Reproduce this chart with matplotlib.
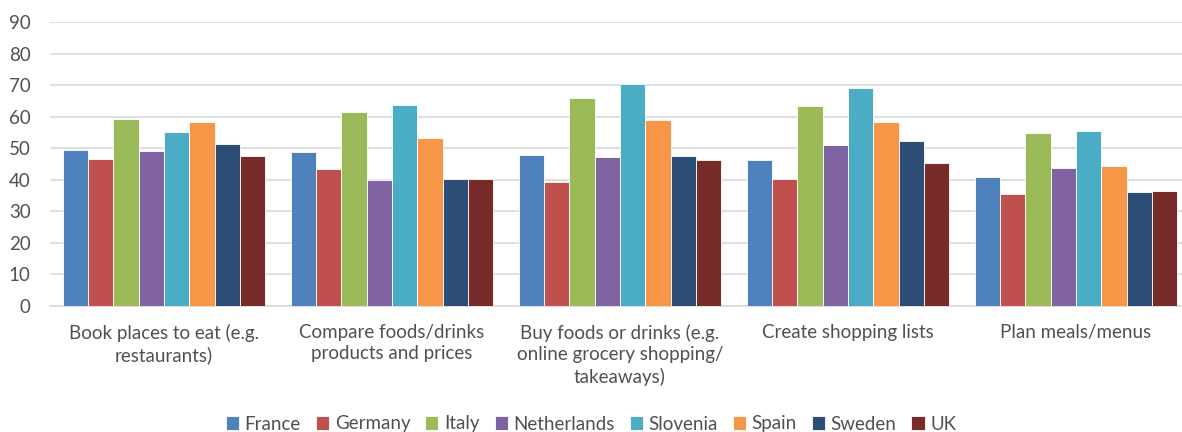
import matplotlib.pyplot as plt
import numpy as np

plt.rcParams['font.family'] = ['Lato', 'DejaVu Sans']

categories = [
    "Book places to eat (e.g.\nrestaurants)",
    "Compare foods/drinks\nproducts and prices",
    "Buy foods or drinks (e.g.\nonline grocery shopping/\ntakeaways)",
    "Create shopping lists",
    "Plan meals/menus",
]
countries = ["France", "Germany", "Italy", "Netherlands", "Slovenia", "Spain", "Sweden", "UK"]
colors = ["#4F81BD", "#C0504D", "#9BBB59", "#8064A2", "#4BACC6", "#F79646", "#2C4D75", "#772C2A"]

france = [49.3, 48.8, 47.9, 46.3, 40.8]
germany = [46.5, 43.4, 39.2, 40.2, 35.6]
italy = [59.3, 61.5, 66.0, 63.5, 54.7]
netherlands = [49.2, 39.9, 47.2, 51.0, 43.7]
slovenia = [55.0, 63.8, 70.3, 69.0, 55.6]
spain = [58.4, 53.2, 58.8, 58.4, 44.5]
sweden = [51.3, 40.2, 47.6, 52.4, 36.1]
uk = [47.5, 40.2, 46.3, 45.3, 36.4]
values = [france, germany, italy, netherlands, slovenia, spain, sweden, uk]

fig = plt.figure(figsize=(11.82, 4.32), dpi=100)
# plot area runs slightly past the right edge, as in the original export
ax = fig.add_axes([50 / 1182, 126 / 432, 1140 / 1182, 284 / 432])

x = np.arange(len(categories))
group = 0.89
width = group / len(countries)
for i, (name, vals) in enumerate(zip(countries, values)):
    offs = -group / 2 + width * (i + 0.5)
    ax.bar(x + offs, vals, width, color=colors[i], label=name,
           edgecolor='#FFFFFF', linewidth=0.6, zorder=3)

ax.set_xlim(-0.5, len(categories) - 0.5)
ax.set_ylim(0, 90)
ax.set_yticks(np.arange(0, 91, 10))
ax.yaxis.grid(True, color='#D9D9D9', linewidth=1.2, zorder=0)
for s in ['top', 'right', 'left']:
    ax.spines[s].set_visible(False)
ax.spines['bottom'].set_color('#D9D9D9')
ax.spines['bottom'].set_linewidth(1.2)
ax.tick_params(axis='both', length=0, labelsize=13.5, colors='#505050')
ax.tick_params(axis='x', pad=13)
ax.tick_params(axis='y', pad=14)
ax.set_xticks(x)
ax.set_xticklabels(categories, linespacing=1.3, va='top')

fig.legend(loc='center', bbox_to_anchor=(0.5, 8 / 432), ncol=8, frameon=False,
           fontsize=13.5, handlelength=0.7, handleheight=0.7, handletextpad=0.3,
           columnspacing=0.8, labelcolor='#505050')

fig.savefig('out.png', dpi=100)
plt.close(fig)
